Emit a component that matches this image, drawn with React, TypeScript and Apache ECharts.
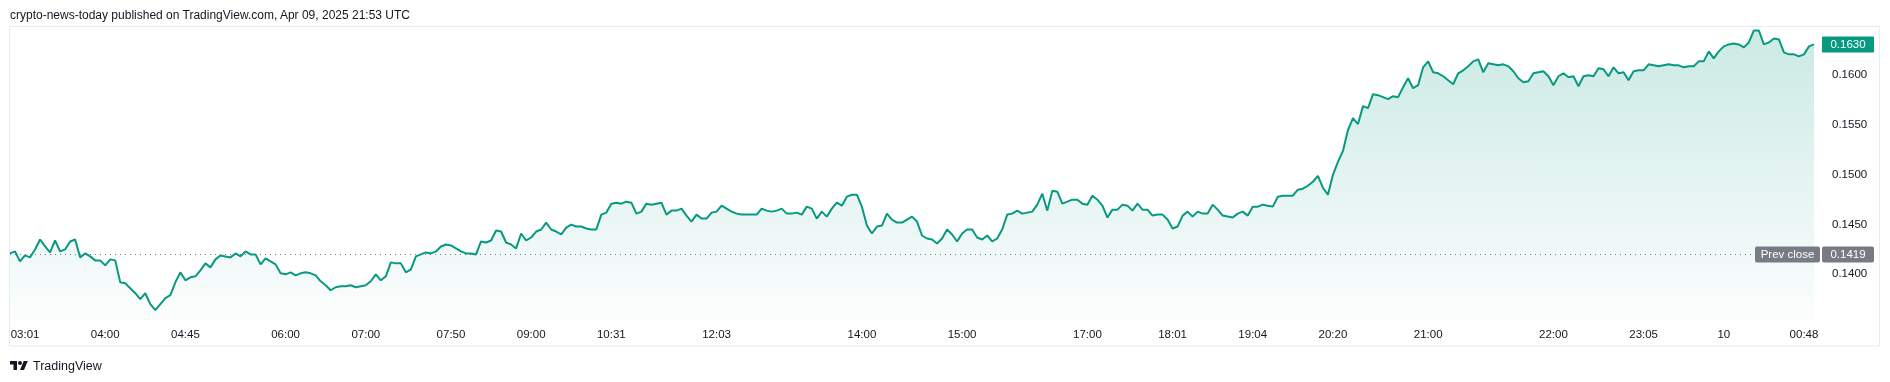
import React, { useEffect, useRef } from "react";
import * as echarts from "echarts";

const title = "crypto-news-today published on TradingView.com, Apr 09, 2025 21:53 UTC";
const brand = "TradingView";

// Close prices, one point per bar (left to right)
const prices = [
  0.1420, 0.1422, 0.1412, 0.1418, 0.1416, 0.1424, 0.1434, 0.1427, 0.1421, 0.1433,
  0.1422, 0.1424, 0.1432, 0.1434, 0.1416, 0.1420, 0.1417, 0.1413, 0.1413, 0.1408,
  0.1414, 0.1413, 0.1391, 0.1390, 0.1385, 0.1380, 0.1374, 0.1380, 0.1369, 0.1363,
  0.1369, 0.1375, 0.1378, 0.1391, 0.1401, 0.1393, 0.1396, 0.1397, 0.1403, 0.1410,
  0.1406, 0.1414, 0.1418, 0.1417, 0.1416, 0.1420, 0.1417, 0.1422, 0.1419, 0.1419,
  0.1409, 0.1415, 0.1412, 0.1409, 0.1400, 0.1399, 0.1401, 0.1398, 0.1400, 0.1401,
  0.1400, 0.1398, 0.1392, 0.1388, 0.1383, 0.1386, 0.1387, 0.1387, 0.1388, 0.1386,
  0.1387, 0.1388, 0.1392, 0.1399, 0.1393, 0.1397, 0.1411, 0.1410, 0.1410, 0.1401,
  0.1404, 0.1417, 0.1419, 0.1421, 0.1420, 0.1422, 0.1427, 0.1429, 0.1428, 0.1425,
  0.1422, 0.1420, 0.1420, 0.1419, 0.1432, 0.1431, 0.1433, 0.1443, 0.1442, 0.1431,
  0.1429, 0.1425, 0.1440, 0.1433, 0.1436, 0.1442, 0.1444, 0.1451, 0.1444, 0.1442,
  0.1439, 0.1446, 0.1449, 0.1447, 0.1447, 0.1445, 0.1444, 0.1444, 0.1459, 0.1461,
  0.1470, 0.1471, 0.1470, 0.1472, 0.1471, 0.1460, 0.1462, 0.1470, 0.1469, 0.1470,
  0.1471, 0.1459, 0.1463, 0.1463, 0.1465, 0.1458, 0.1452, 0.1459, 0.1455, 0.1455,
  0.1461, 0.1462, 0.1468, 0.1465, 0.1462, 0.1460, 0.1459, 0.1459, 0.1459, 0.1459,
  0.1465, 0.1463, 0.1462, 0.1463, 0.1465, 0.1460, 0.1460, 0.1461, 0.1459, 0.1467,
  0.1465, 0.1455, 0.1462, 0.1457, 0.1465, 0.1471, 0.1468, 0.1477, 0.1479, 0.1479,
  0.1467, 0.1448, 0.1440, 0.1447, 0.1448, 0.1460, 0.1454, 0.1451, 0.1451, 0.1454,
  0.1457, 0.1452, 0.1438, 0.1435, 0.1434, 0.1430, 0.1435, 0.1444, 0.1439, 0.1432,
  0.1440, 0.1444, 0.1444, 0.1436, 0.1434, 0.1438, 0.1432, 0.1435, 0.1444, 0.1459,
  0.1460, 0.1463, 0.1460, 0.1461, 0.1462, 0.1469, 0.1480, 0.1463, 0.1483, 0.1482,
  0.1470, 0.1472, 0.1474, 0.1474, 0.1470, 0.1469, 0.1478, 0.1474, 0.1468, 0.1456,
  0.1464, 0.1464, 0.1469, 0.1468, 0.1463, 0.1470, 0.1464, 0.1464, 0.1458, 0.1459,
  0.1459, 0.1454, 0.1445, 0.1447, 0.1458, 0.1462, 0.1457, 0.1462, 0.1460, 0.1460,
  0.1469, 0.1464, 0.1458, 0.1457, 0.1456, 0.1460, 0.1462, 0.1458, 0.1467, 0.1467,
  0.1469, 0.1468, 0.1467, 0.1477, 0.1478, 0.1478, 0.1478, 0.1484, 0.1485, 0.1488,
  0.1492, 0.1498, 0.1486, 0.1479, 0.1499, 0.1512, 0.1523, 0.1544, 0.1556, 0.1550,
  0.1568, 0.1566, 0.1580, 0.1579, 0.1577, 0.1575, 0.1578, 0.1577, 0.1587, 0.1596,
  0.1586, 0.1589, 0.1607, 0.1613, 0.1602, 0.1601, 0.1598, 0.1594, 0.1590, 0.1601,
  0.1604, 0.1608, 0.1613, 0.1615, 0.1602, 0.1611, 0.1610, 0.1609, 0.1610, 0.1608,
  0.1603, 0.1596, 0.1592, 0.1593, 0.1601, 0.1602, 0.1603, 0.1598, 0.1589, 0.1598,
  0.1601, 0.1597, 0.1598, 0.1588, 0.1598, 0.1599, 0.1598, 0.1606, 0.1605, 0.1598,
  0.1607, 0.1601, 0.1602, 0.1594, 0.1603, 0.1604, 0.1604, 0.1610, 0.1609, 0.1608,
  0.1609, 0.1610, 0.1609, 0.1609, 0.1607, 0.1608, 0.1608, 0.1613, 0.1613, 0.1623,
  0.1616, 0.1623, 0.1628, 0.1630, 0.1631, 0.1630, 0.1627, 0.1632, 0.1644, 0.1644,
  0.1630, 0.1632, 0.1636, 0.1635, 0.1622, 0.1620, 0.1620, 0.1618, 0.1620, 0.1628,
  0.1630,
];

// Time-axis labels and the bar index each one sits on
const tickIndex = [3, 19, 35, 55, 71, 88, 104, 120, 141, 170, 190, 215, 232, 248, 264, 283, 308, 326, 342, 358];
const tickLabels = ["03:01", "04:00", "04:45", "06:00", "07:00", "07:50", "09:00", "10:31", "12:03", "14:00",
  "15:00", "17:00", "18:01", "19:04", "20:20", "21:00", "22:00", "23:05", "10", "00:48"];

// Price-axis labels
const priceTicks = [0.14, 0.145, 0.15, 0.155, 0.16];
const prevClose = 0.1419;
const prevCloseLabel = "Prev close";
const yMin = 0.13531;
const yMax = 0.16475;

const FONT = '"Liberation Sans", Arial, sans-serif';
const TEXT = "#131722";
const GREEN = "#089981";
const GREY = "#787b86";

const TV_LOGO = "M14 22H7V11H0V4h14v18zM28 22h-8l7.5-18h8L28 22zM24 8a4 4 0 1 1-8 0a4 4 0 1 1 8 0z";
let logoRegistered = false;

export default function App() {
  const ref = useRef<HTMLDivElement>(null);

  useEffect(() => {
    if (!logoRegistered) {
      echarts.graphic.registerShape("tvlogo", echarts.graphic.extendPath(TV_LOGO, {}));
      logoRegistered = true;
    }
    const chart = echarts.init(ref.current!, null, { renderer: "svg" });
    const cats = prices.map((_, i) => String(i));
    const labelAt = new Map<number, string>(tickIndex.map((idx, k) => [idx, tickLabels[k]]));

    chart.setOption({
      animation: false,
      textStyle: { fontFamily: FONT },
      grid: { left: 10, right: 76, top: 27, bottom: 62, containLabel: false },
      xAxis: {
        type: "category",
        data: cats,
        boundaryGap: false,
        axisLine: { show: false },
        axisTick: { show: false },
        splitLine: { show: false },
        axisLabel: {
          interval: (i: number) => labelAt.has(i),
          formatter: (_v: string, i: number) => labelAt.get(i) ?? "",
          color: TEXT,
          fontSize: 11.5,
          fontFamily: FONT,
          margin: 8,
        },
      },
      yAxis: {
        type: "value",
        position: "right",
        min: yMin,
        max: yMax,
        splitLine: { show: false },
        axisLine: { show: false },
        axisTick: { show: false },
        axisLabel: {
          customValues: priceTicks,
          formatter: (v: number) => v.toFixed(4),
          color: TEXT,
          fontSize: 11.5,
          fontFamily: FONT,
          margin: 18,
        },
      },
      series: [
        {
          type: "line",
          data: prices,
          symbol: "none",
          showSymbol: false,
          z: 3,
          lineStyle: { color: GREEN, width: 2 },
          areaStyle: {
            origin: "start",
            color: new echarts.graphic.LinearGradient(0, 0, 0, 1, [
              { offset: 0, color: "rgba(8,153,129,0.30)" },
              { offset: 1, color: "rgba(8,153,129,0.02)" },
            ]),
          },
        },
      ],
    });

    const last = prices[prices.length - 1];
    const yPrev = chart.convertToPixel({ yAxisIndex: 0 }, prevClose) as number;
    const yLast = chart.convertToPixel({ yAxisIndex: 0 }, last) as number;
    const xStart = chart.convertToPixel({ xAxisIndex: 0 }, 0) as number;
    const txt = (text: string, x: number, y: number, fill: string, size: number, align = "center") => ({
      type: "text",
      z: 20,
      style: { text, x, y, fill, fontSize: size, fontFamily: FONT, align, verticalAlign: "middle" },
    });

    chart.setOption({
      graphic: [
        {
          type: "rect",
          z: 1,
          shape: { x: 9.5, y: 26.5, width: 1870, height: 319.5 },
          style: { fill: "none", stroke: "#ebebeb", lineWidth: 1 },
        },
        {
          type: "line",
          z: 2,
          shape: { x1: xStart, y1: Math.round(yPrev) + 0.5, x2: 1755, y2: Math.round(yPrev) + 0.5 },
          style: { stroke: GREY, lineWidth: 1, lineDash: [1, 4] },
        },
        txt(title, 10, 15, TEXT, 12, "left"),
        { type: "rect", z: 19, shape: { x: 1755, y: yPrev - 8, width: 65, height: 16, r: 2 }, style: { fill: GREY } },
        txt(prevCloseLabel, 1787.5, yPrev, "#ffffff", 11.5),
        { type: "rect", z: 19, shape: { x: 1822, y: yPrev - 8, width: 52, height: 16, r: 2 }, style: { fill: GREY } },
        txt(prevClose.toFixed(4), 1848, yPrev, "#ffffff", 11.5),
        { type: "rect", z: 19, shape: { x: 1822, y: yLast - 8, width: 52, height: 16, r: 1 }, style: { fill: GREEN } },
        txt(last.toFixed(4), 1848, yLast, "#ffffff", 11.5),
        { type: "tvlogo", z: 20, x: 10, y: 359, scaleX: 0.5, scaleY: 0.5, style: { fill: TEXT } },
        txt(brand, 33, 365.5, TEXT, 12.5, "left"),
      ],
    });

    return () => chart.dispose();
  }, []);

  return <div ref={ref} style={{ position: "fixed", left: 0, top: 0, width: 1890, height: 382 }} />;
}
